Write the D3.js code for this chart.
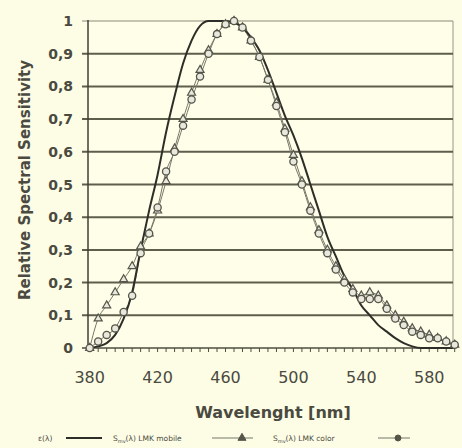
<!DOCTYPE html>
<html>
<head>
<meta charset="utf-8">
<script src="https://cdn.jsdelivr.net/npm/d3@7"></script>
<style>
  body { margin: 0; background: #fdfde6; }
  svg { display: block; }
  text { font-family: "DejaVu Sans", Verdana, sans-serif; fill: #4a4a40; }
</style>
</head>
<body>
<svg id="chart" width="462" height="448"></svg>
<script>
// wavelengths every 5 nm
var wavelengths = d3.range(380, 600, 5)

// reference curve (solid)
var reference = [0.0, 0.005, 0.015, 0.04, 0.09, 0.17, 0.30, 0.42, 0.53, 0.66,
  0.77, 0.87, 0.94, 0.985, 1.0, 1.0, 1.0, 0.995, 0.98, 0.95,
  0.91, 0.85, 0.78, 0.71, 0.65, 0.58, 0.50, 0.42, 0.34, 0.28,
  0.22, 0.18, 0.13, 0.10, 0.07, 0.05, 0.03, 0.015, 0.005, 0.0,
  0.0, 0.0, 0.0, 0.0]

// LMK mobile (triangles)
var lmkMobile = [0.0, 0.09, 0.13, 0.17, 0.21, 0.25, 0.31, 0.35, 0.42, 0.51,
  0.61, 0.70, 0.78, 0.85, 0.91, 0.96, 0.99, 1.0, 0.98, 0.94,
  0.89, 0.82, 0.75, 0.67, 0.59, 0.51, 0.43, 0.36, 0.30, 0.25,
  0.21, 0.18, 0.16, 0.17, 0.16, 0.13, 0.10, 0.08, 0.06, 0.05,
  0.04, 0.03, 0.02, 0.01]

// LMK color (circles)
var lmkColor = [0.0, 0.02, 0.04, 0.06, 0.11, 0.16, 0.29, 0.35, 0.43, 0.54,
  0.60, 0.68, 0.76, 0.83, 0.90, 0.96, 0.99, 1.0, 0.98, 0.94,
  0.89, 0.82, 0.74, 0.66, 0.57, 0.50, 0.42, 0.35, 0.29, 0.24,
  0.20, 0.17, 0.15, 0.15, 0.15, 0.12, 0.09, 0.07, 0.05, 0.04,
  0.03, 0.03, 0.02, 0.01]

var yTicks = d3.range(0, 1.01, 0.1)
var xLabels = [380, 420, 460, 500, 540, 580]

var svg = d3.select('#chart')
var x = d3.scaleLinear().domain([379, 594]).range([88, 453])
var y = d3.scaleLinear().domain([0, 1]).range([348, 21])
var fmt = function(d) { return d === 0 ? '0' : d > 0.99 ? '1' : d3.format('.1f')(d).replace('.', ',') }

// plot background + right border
svg.append('rect')
  .attr('x', 88).attr('y', 21)
  .attr('width', 365).attr('height', 327)
  .attr('fill', '#fefee9')
svg.append('line')
  .attr('x1', 453).attr('x2', 453).attr('y1', 21).attr('y2', 348)
  .attr('stroke', '#a8a898').attr('stroke-width', 1.2)

// gridlines
svg.append('g').selectAll('line').data(yTicks.slice(1)).enter().append('line')
  .attr('x1', 82).attr('x2', 453)
  .attr('y1', function(d) { return y(d) }).attr('y2', function(d) { return y(d) })
  .attr('stroke', function(d) { return d > 0.95 ? '#8a8a78' : '#5e5e4c' })
  .attr('stroke-width', function(d) { return d > 0.95 ? 1.2 : 2 })

// y axis
svg.append('line')
  .attr('x1', 88).attr('x2', 88).attr('y1', 20).attr('y2', 349)
  .attr('stroke', '#3e3e34').attr('stroke-width', 1.5)
svg.append('g').selectAll('text').data(yTicks).enter().append('text')
  .attr('x', 73).attr('y', function(d) { return y(d) + 5 })
  .attr('text-anchor', 'end')
  .attr('font-size', 14).attr('font-weight', 'bold')
  .attr('fill', '#55554a')
  .text(fmt)

// x axis
svg.append('line')
  .attr('x1', 82).attr('x2', 453).attr('y1', 348).attr('y2', 348)
  .attr('stroke', '#4e4e40').attr('stroke-width', 1.5)
svg.append('g').selectAll('line').data(d3.range(380, 596, 5)).enter().append('line')
  .attr('x1', function(d) { return x(d) }).attr('x2', function(d) { return x(d) })
  .attr('y1', 348).attr('y2', 352)
  .attr('stroke', '#4e4e40').attr('stroke-width', 1)
svg.append('g').selectAll('text').data(xLabels).enter().append('text')
  .attr('x', function(d) { return x(d) }).attr('y', 383)
  .attr('text-anchor', 'middle')
  .attr('font-size', 16)
  .attr('fill', '#66665e')
  .text(function(d) { return d })

// titles
svg.append('text')
  .attr('x', 273).attr('y', 418)
  .attr('text-anchor', 'middle')
  .attr('font-size', 16).attr('font-weight', 'bold')
  .text('Wavelenght [nm]')
svg.append('text')
  .attr('transform', 'translate(30,180) rotate(-90)')
  .attr('text-anchor', 'middle')
  .attr('font-size', 15).attr('font-weight', 'bold')
  .attr('fill', '#55554a')
  .text('Relative Spectral Sensitivity')

var line = function(vals) {
  return d3.line()
    .x(function(d, i) { return x(wavelengths[i]) })
    .y(function(d) { return y(d) })
    .curve(d3.curveMonotoneX)(vals)
}

// measured series lines
svg.append('path').attr('d', line(lmkMobile))
  .attr('fill', 'none').attr('stroke', '#77776a').attr('stroke-width', 1)
svg.append('path').attr('d', line(lmkColor))
  .attr('fill', 'none').attr('stroke', '#77776a').attr('stroke-width', 1)

// reference solid
svg.append('path').attr('d', line(reference))
  .attr('fill', 'none').attr('stroke', '#2e2e28').attr('stroke-width', 2)

var tri = d3.symbol().type(d3.symbolTriangle).size(28)
svg.append('g').selectAll('path').data(lmkMobile).enter().append('path')
  .attr('d', tri)
  .attr('transform', function(d, i) { return 'translate(' + x(wavelengths[i]) + ',' + y(d) + ')' })
  .attr('fill', '#e8e8dc').attr('stroke', '#55554a').attr('stroke-width', 1.2)
svg.append('g').selectAll('circle').data(lmkColor).enter().append('circle')
  .attr('cx', function(d, i) { return x(wavelengths[i]) })
  .attr('cy', function(d) { return y(d) })
  .attr('r', 3.6)
  .attr('fill', '#e8e8dc').attr('stroke', '#55554a').attr('stroke-width', 1.3)

// legend
var ly = 438
var lg = svg.append('g').attr('font-size', 7.5).attr('fill', '#6e6e62')
lg.append('text').attr('x', 38).attr('y', ly + 2.5).text('ε(λ)')
lg.append('line').attr('x1', 66).attr('x2', 102).attr('y1', ly).attr('y2', ly)
  .attr('stroke', '#2e2e28').attr('stroke-width', 2.2)
var t1 = lg.append('text').attr('x', 113).attr('y', ly + 2.5)
t1.append('tspan').text('S')
t1.append('tspan').attr('dy', 2).attr('font-size', 5).text('mv')
t1.append('tspan').attr('dy', -2).text('(λ) LMK mobile')
lg.append('line').attr('x1', 212).attr('x2', 253).attr('y1', ly).attr('y2', ly)
  .attr('stroke', '#77776a').attr('stroke-width', 1)
lg.append('path').attr('d', tri).attr('transform', 'translate(242,' + ly + ')')
  .attr('fill', '#55554a').attr('stroke', '#55554a')
var t2 = lg.append('text').attr('x', 273).attr('y', ly + 2.5)
t2.append('tspan').text('S')
t2.append('tspan').attr('dy', 2).attr('font-size', 5).text('mv')
t2.append('tspan').attr('dy', -2).text('(λ) LMK color')
lg.append('line').attr('x1', 378).attr('x2', 410).attr('y1', ly).attr('y2', ly)
  .attr('stroke', '#77776a').attr('stroke-width', 1)
lg.append('circle').attr('cx', 398).attr('cy', ly).attr('r', 3)
  .attr('fill', '#55554a').attr('stroke', '#55554a')
</script>
</body>
</html>
